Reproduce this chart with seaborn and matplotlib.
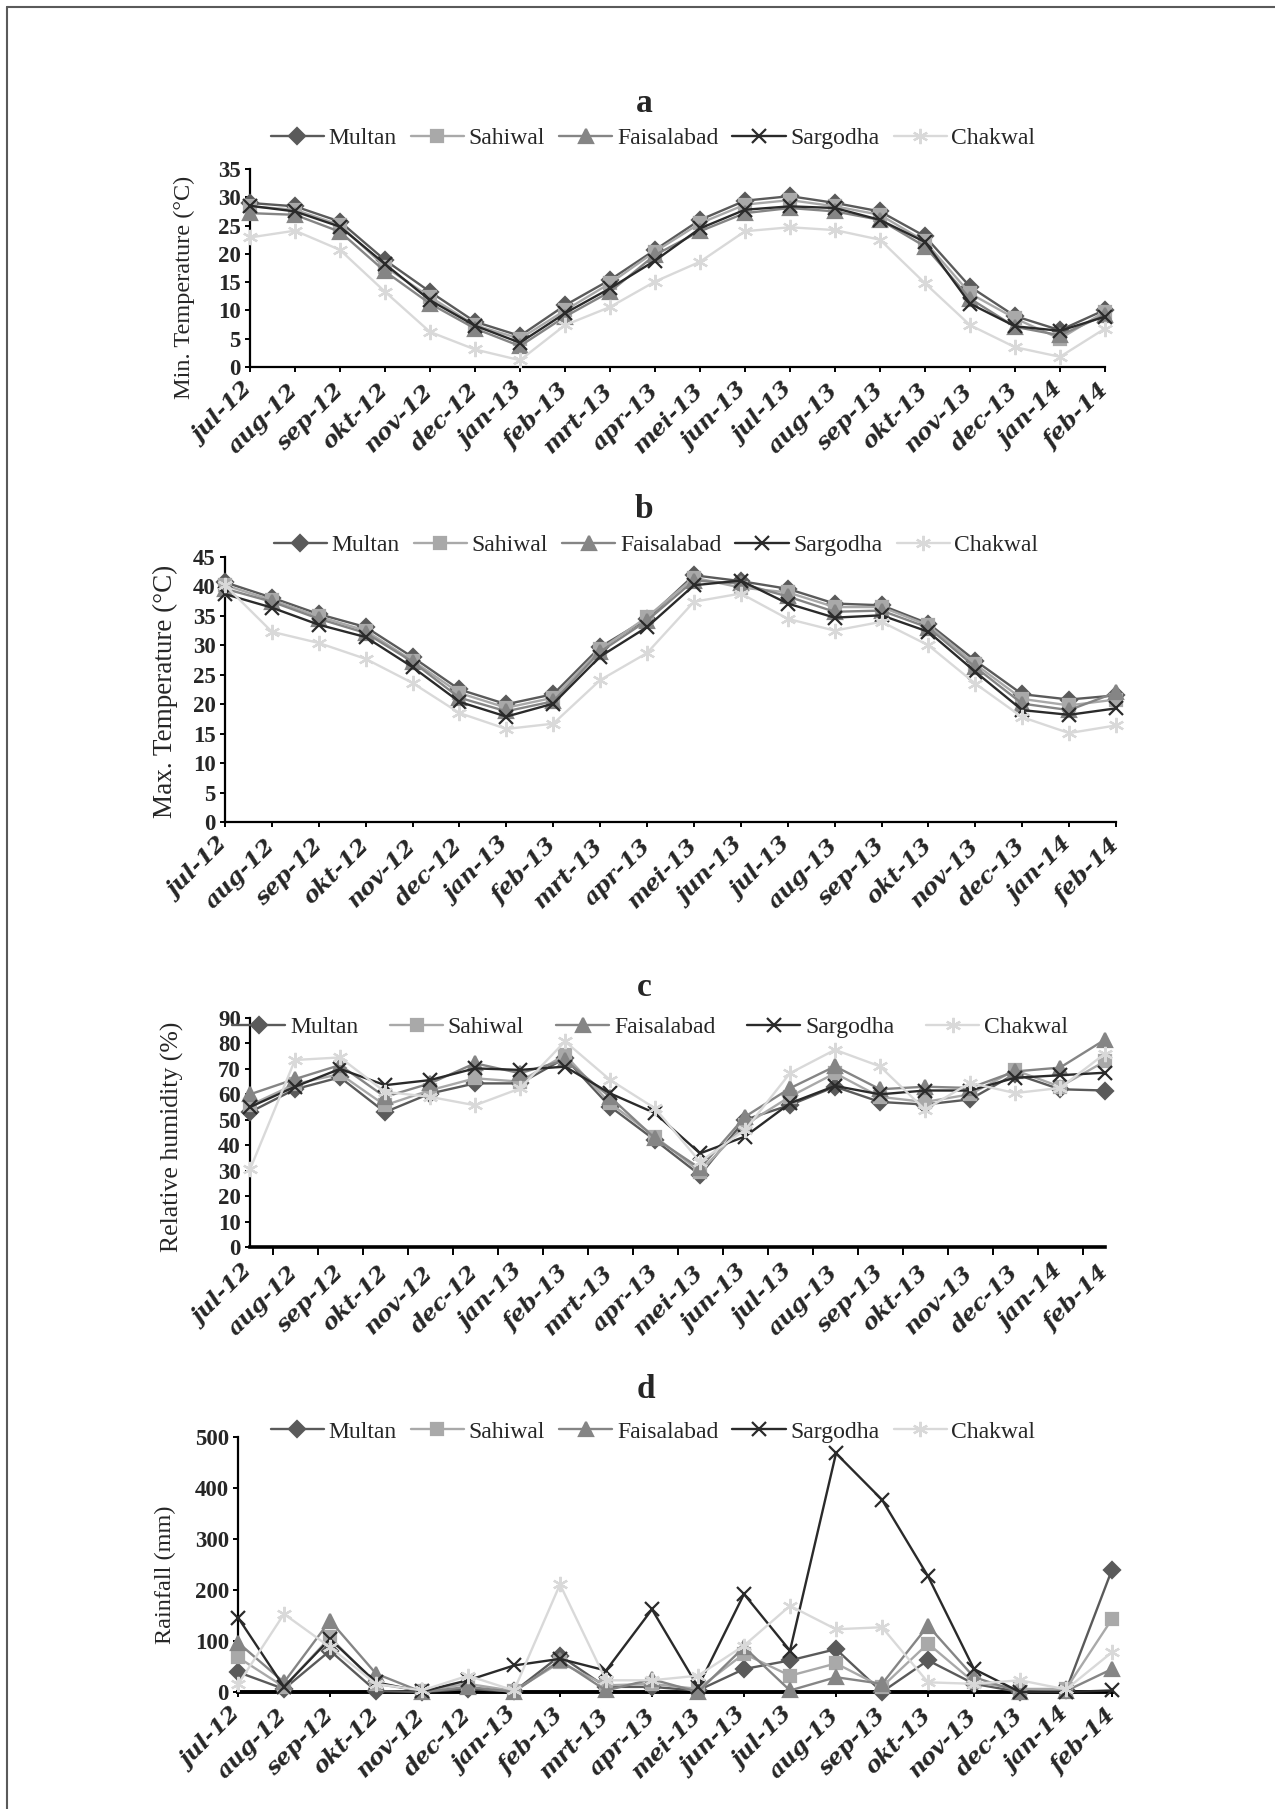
import numpy as np
import matplotlib
matplotlib.use("Agg")
import matplotlib.pyplot as plt
import seaborn as sns
from matplotlib.lines import Line2D

# --- data ---------------------------------------------------------------
MONTHS = ["jul-12", "aug-12", "sep-12", "okt-12", "nov-12", "dec-12", "jan-13",
          "feb-13", "mrt-13", "apr-13", "mei-13", "jun-13", "jul-13", "aug-13",
          "sep-13", "okt-13", "nov-13", "dec-13", "jan-14", "feb-14"]
STATIONS = ["Multan", "Sahiwal", "Faisalabad", "Sargodha", "Chakwal"]

# a: minimum temperature (°C)
MIN_MULTAN = [29.0, 28.4, 25.7, 18.9, 13.3, 8.0, 5.5, 10.9, 15.4, 20.7,
              26.0, 29.4, 30.2, 29.0, 27.5, 23.1, 14.2, 9.0, 6.5, 10.1]
MIN_SAHIWAL = [28.4, 27.8, 25.1, 17.7, 12.4, 7.4, 5.0, 10.0, 14.8, 20.4,
               25.4, 28.7, 29.5, 28.4, 26.9, 22.2, 13.0, 8.6, 5.0, 9.8]
MIN_FAISALABAD = [27.2, 26.9, 23.9, 16.9, 11.2, 6.8, 3.7, 8.9, 13.3, 19.8,
                  24.0, 27.2, 28.1, 27.5, 26.0, 21.3, 12.1, 7.1, 5.6, 9.2]
MIN_SARGODHA = [28.5, 27.5, 24.8, 18.2, 11.8, 7.3, 4.3, 9.5, 13.9, 18.8,
                24.5, 27.8, 28.4, 28.1, 26.0, 22.1, 11.2, 7.2, 6.4, 8.9]
MIN_CHAKWAL = [22.9, 24.1, 20.7, 13.3, 6.2, 3.1, 1.2, 7.4, 10.6, 15.1,
               18.6, 24.0, 24.7, 24.2, 22.5, 14.8, 7.4, 3.5, 1.8, 6.8]

# b: maximum temperature (°C)
MAX_MULTAN = [40.7, 38.1, 35.3, 33.1, 28.0, 22.5, 20.0, 21.7, 29.7, 34.5,
              41.9, 40.9, 39.6, 37.1, 36.8, 33.7, 27.4, 21.7, 20.8, 21.5]
MAX_SAHIWAL = [40.2, 37.7, 34.9, 32.5, 27.4, 21.9, 19.4, 21.1, 29.3, 34.8,
               41.5, 39.8, 39.0, 36.5, 36.5, 33.4, 26.8, 20.9, 19.8, 20.8]
MAX_FAISALABAD = [39.6, 37.4, 34.5, 32.1, 27.2, 21.1, 18.8, 20.5, 28.9, 34.2,
                  41.0, 40.5, 38.3, 35.7, 35.9, 33.0, 26.3, 20.1, 19.0, 22.0]
MAX_SARGODHA = [38.7, 36.4, 33.5, 31.4, 26.3, 20.4, 17.9, 20.1, 28.1, 33.1,
                40.2, 41.0, 37.1, 34.7, 35.1, 32.3, 25.5, 19.0, 18.2, 19.3]
MAX_CHAKWAL = [40.2, 32.3, 30.4, 27.7, 23.6, 18.5, 15.8, 16.7, 24.1, 28.7,
               37.4, 38.8, 34.5, 32.5, 34.0, 30.0, 23.5, 17.8, 15.1, 16.4]

# c: relative humidity (%)
RH_MULTAN = [53.0, 62.0, 66.7, 53.0, 60.3, 64.3, 64.3, 74.2, 55.2, 42.0,
             28.3, 50.0, 55.8, 63.0, 57.0, 56.0, 58.0, 68.0, 62.0, 61.5]
RH_SAHIWAL = [55.7, 64.0, 68.0, 55.7, 61.6, 66.3, 65.0, 75.5, 56.5, 43.4,
              29.6, 48.0, 59.1, 68.3, 59.0, 57.0, 60.0, 69.5, 63.0, 73.0]
RH_FAISALABAD = [60.0, 66.0, 71.5, 59.0, 64.3, 72.2, 68.3, 73.5, 59.0, 42.7,
                 30.9, 51.2, 62.4, 71.0, 62.0, 63.0, 62.5, 69.0, 70.5, 81.5]
RH_SARGODHA = [55.0, 63.0, 70.0, 63.6, 65.6, 70.2, 69.6, 70.9, 60.4, 52.6,
               36.8, 43.4, 56.5, 63.3, 60.0, 61.5, 61.5, 66.5, 67.5, 68.5]
RH_CHAKWAL = [30.5, 73.5, 74.5, 61.0, 59.0, 55.7, 62.3, 80.8, 65.7, 54.5,
              33.5, 46.0, 68.3, 77.5, 71.0, 54.0, 64.5, 60.5, 62.5, 76.0]

# d: rainfall (mm)
RAIN_MULTAN = [39, 6, 81, 2, 0, 6, 1, 71, 10, 10,
               3, 45, 62, 84, 0, 62, 16, 0, 3, 240]
RAIN_SAHIWAL = [68, 10, 107, 16, 2, 16, 2, 58, 13, 16,
                6, 75, 32, 56, 10, 95, 19, 6, 6, 143]
RAIN_FAISALABAD = [97, 19, 140, 36, 0, 10, 0, 62, 3, 25,
                   0, 88, 3, 29, 16, 130, 29, 0, 2, 45]
RAIN_SARGODHA = [146, 10, 104, 19, 1, 23, 52, 65, 42, 162,
                 10, 192, 81, 468, 377, 227, 45, 0, 0, 3]
RAIN_CHAKWAL = [15, 153, 88, 16, 3, 32, 3, 211, 23, 23,
                32, 91, 169, 123, 127, 19, 16, 23, 5, 78]

# --- style --------------------------------------------------------------
W, H = 1275, 1809

COLORS = {"Multan": "#5a5a5a", "Sahiwal": "#a9a9a9", "Faisalabad": "#858585",
          "Sargodha": "#2a2a2a", "Chakwal": "#d9d9d9"}
MARKERS = {"Multan": "D", "Sahiwal": "s", "Faisalabad": "^",
           "Sargodha": "x", "Chakwal": (6, 2, 0)}
SIZES = {"Multan": 8.5, "Sahiwal": 9, "Faisalabad": 10, "Sargodha": 10.5,
         "Chakwal": 11}

sns.set_style("white")
plt.rcParams["font.family"] = ["Liberation Serif", "DejaVu Serif"]

fig = plt.figure(figsize=(W / 100, H / 100), dpi=100)


def px_rect(left, top, right, bottom):
    return [left / W, 1 - bottom / H, (right - left) / W, (bottom - top) / H]


def handles():
    out = []
    for name in STATIONS:
        out.append(Line2D([], [], color=COLORS[name], marker=MARKERS[name],
                          markersize=SIZES[name], markeredgecolor=COLORS[name],
                          markeredgewidth=1.6, linewidth=1.7))
    return out


def draw_panel(rect, series, ymax, ystep, ylabel, ylabel_xy, ylabel_size,
               title, title_xy, legend_xy, colspacing, between=False,
               bottom_lw=1.6):
    ax = fig.add_axes(px_rect(*rect))
    x = np.arange(len(MONTHS))
    for name, vals in zip(STATIONS, series):
        sns.lineplot(x=x, y=vals, ax=ax, color=COLORS[name],
                     marker=MARKERS[name], markersize=SIZES[name],
                     markeredgecolor=COLORS[name], markeredgewidth=1.6,
                     linewidth=1.7, clip_on=False, zorder=3,
                     estimator=None, sort=False)

    ax.set_xlim(0, len(MONTHS) - 1)
    ax.set_ylim(0, ymax)
    ax.set_yticks(np.arange(0, ymax + 1, ystep))
    ax.set_yticklabels([str(v) for v in np.arange(0, ymax + 1, ystep)],
                       fontfamily="Liberation Serif", fontweight="bold", fontsize=16.5)
    ax.set_xticks(x)
    ax.set_xticklabels(MONTHS, rotation=45, ha="right", va="center",
                       rotation_mode="anchor", fontfamily="DejaVu Serif",
                       fontweight="bold", fontstyle="italic", fontsize=16.5)

    for side in ["top", "right"]:
        ax.spines[side].set_visible(False)
    ax.spines["left"].set_linewidth(1.6)
    ax.spines["bottom"].set_linewidth(bottom_lw)
    for side in ["left", "bottom"]:
        ax.spines[side].set_color("black")

    ax.tick_params(axis="y", direction="out", length=3.6, width=1.4,
                   color="black", pad=3, left=True)
    if between:
        ax.set_xticks(np.arange(0.5, len(MONTHS) - 1, 1), minor=True)
        ax.tick_params(axis="x", which="major", length=0, pad=16, bottom=True)
        ax.tick_params(axis="x", which="minor", direction="out", length=5.8,
                       width=1.4, color="black", bottom=True)
    else:
        ax.tick_params(axis="x", direction="out", length=3.6, width=1.4,
                       color="black", pad=11, bottom=True)
    ax.set_xlabel("")
    ax.set_ylabel("")

    fig.text(ylabel_xy[0] / W, 1 - ylabel_xy[1] / H, ylabel, rotation=90,
             ha="center", va="center", fontsize=ylabel_size)
    fig.text(title_xy[0] / W, 1 - title_xy[1] / H, title, ha="center",
             va="center", fontsize=24, fontweight="bold")
    fig.legend(handles(), STATIONS, loc="center",
               bbox_to_anchor=(legend_xy[0] / W, 1 - legend_xy[1] / H),
               ncol=5, frameon=False, handlelength=2.25, handletextpad=0.2,
               columnspacing=colspacing, borderaxespad=0,
               prop={"family": "Liberation Serif", "size": 17})
    return ax


draw_panel((250, 169, 1105, 367),
           [MIN_MULTAN, MIN_SAHIWAL, MIN_FAISALABAD, MIN_SARGODHA, MIN_CHAKWAL],
           35, 5, "Min. Temperature (°C)", (184, 287), 17.5,
           "a", (644, 103), (653, 138), 0.6)

draw_panel((225, 557, 1116, 822),
           [MAX_MULTAN, MAX_SAHIWAL, MAX_FAISALABAD, MAX_SARGODHA, MAX_CHAKWAL],
           45, 5, "Max. Temperature (°C)", (165, 691), 19.5,
           "b", (644, 510), (656, 545), 0.6)

draw_panel((250, 1018, 1105, 1247),
           [RH_MULTAN, RH_SAHIWAL, RH_FAISALABAD, RH_SARGODHA, RH_CHAKWAL],
           90, 10, "Relative humidity (%)", (172, 1137), 18.5,
           "c", (644, 988), (650, 1027), 1.35, between=True, bottom_lw=2.6)

draw_panel((238, 1437, 1112, 1692),
           [RAIN_MULTAN, RAIN_SAHIWAL, RAIN_FAISALABAD, RAIN_SARGODHA, RAIN_CHAKWAL],
           500, 100, "Rainfall (mm)", (165, 1575), 17.5,
           "d", (646, 1390), (653, 1432), 0.6, bottom_lw=2.8)

# thin frame around the figure (top and left edges visible)
fig.add_artist(Line2D([7 / W, 1], [1 - 7 / H, 1 - 7 / H], transform=fig.transFigure,
                      color="#5a5a5a", linewidth=1.5))
fig.add_artist(Line2D([7 / W, 7 / W], [0, 1 - 7 / H], transform=fig.transFigure,
                      color="#5a5a5a", linewidth=1.5))

fig.savefig("out.png", dpi=100)
